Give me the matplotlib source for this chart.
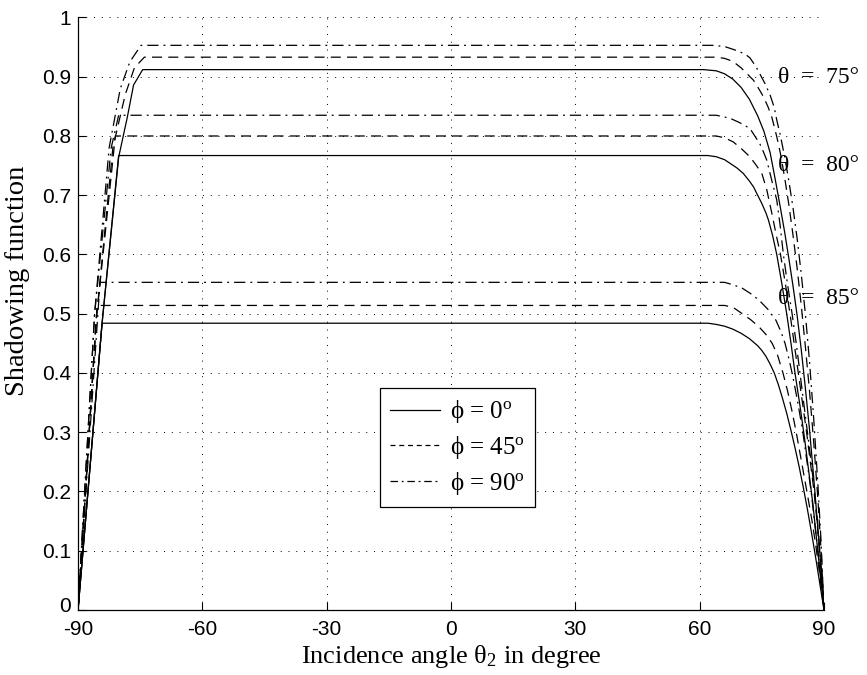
import matplotlib
matplotlib.use("Agg")
import matplotlib.pyplot as plt
import matplotlib.transforms as mtransforms
from matplotlib.lines import Line2D

plt.rcParams['mathtext.fontset'] = 'custom'
plt.rcParams['mathtext.rm'] = 'Liberation Serif'
plt.rcParams['mathtext.it'] = 'Liberation Serif:italic'

# ---- shadowing function vs incidence angle, theta = 75, 80, 85 deg ----
# phi = 0 deg (solid)
t75_phi0_x = [-90, -84.2, -80.2, -78.1, -76.6, -74.4, 61, 64, 66, 68, 70, 72, 74, 75.5, 77, 78.2,
              79.4, 80.5, 81.5, 82.5, 83.5, 84.5, 85.5, 86.5, 87.5, 88.5, 89.3, 90]
t75_phi0_y = [0, 0.484, 0.764, 0.832, 0.886, 0.912, 0.912, 0.910, 0.905, 0.896, 0.882, 0.862, 0.834,
              0.808, 0.772, 0.728, 0.682, 0.638, 0.594, 0.548, 0.498, 0.44, 0.375, 0.305, 0.225,
              0.14, 0.07, 0]

t80_phi0_x = [-90, -84.2, -80.2, 62, 64, 66, 67.3, 69, 70.5, 72, 73, 74, 75, 76, 76.6, 77.6, 78.6,
              79.8, 81, 82, 83, 84.2, 85.3, 86.3, 87.3, 88.2, 89.1, 90]
t80_phi0_y = [0, 0.484, 0.767, 0.767, 0.765, 0.760, 0.754, 0.746, 0.737, 0.724, 0.714, 0.700, 0.686,
              0.670, 0.658, 0.632, 0.600, 0.552, 0.500, 0.452, 0.400, 0.345, 0.290, 0.235, 0.180,
              0.120, 0.060, 0]

t85_phi0_x = [-90, -84.2, 62, 64, 66, 68, 70, 72, 74, 75, 76, 77, 78, 79, 80, 81, 82, 83, 84, 85,
              86, 87, 88, 89, 90]
t85_phi0_y = [0, 0.484, 0.484, 0.482, 0.479, 0.474, 0.467, 0.458, 0.446, 0.438, 0.428, 0.415, 0.400,
              0.380, 0.357, 0.332, 0.304, 0.274, 0.242, 0.207, 0.170, 0.130, 0.088, 0.044, 0]

# phi = 45 deg (dashed)
t75_phi45_x = [-90, -85.6, -81.6, -78.6, -76.4, -74.0, 64, 66, 68, 70, 72, 73, 74.5, 75.4, 76.5,
               77.4, 78.6, 79.5, 80.5, 81.5, 82.5, 83.5, 84.5, 85.5, 86.5, 87.5, 88.5, 89.3, 90]
t75_phi45_y = [0, 0.49, 0.78, 0.87, 0.915, 0.933, 0.933, 0.931, 0.926, 0.915, 0.901, 0.894, 0.877,
               0.866, 0.849, 0.832, 0.799, 0.770, 0.730, 0.685, 0.634, 0.578, 0.515, 0.445, 0.370,
               0.285, 0.190, 0.100, 0]

t80_phi45_x = [-90, -85.6, -81.0, 64, 66, 68.1, 70, 72.1, 73.5, 75, 76.2, 77.4, 78.5, 79.5, 80.7,
               81.8, 82.8, 83.8, 84.8, 85.8, 86.7, 87.6, 88.3, 88.9, 89.5, 90]
t80_phi45_y = [0, 0.49, 0.80, 0.80, 0.797, 0.790, 0.779, 0.765, 0.752, 0.737, 0.709, 0.670, 0.632,
               0.600, 0.550, 0.500, 0.450, 0.400, 0.350, 0.300, 0.250, 0.200, 0.150, 0.100, 0.050, 0]

t85_phi45_x = [-90, -85.4, 66, 68, 70.3, 72.3, 74.3, 76, 77.5, 78.8, 80.1, 81.2, 82.3, 83.3, 84.2,
               85.1, 86, 87, 88, 89, 90]
t85_phi45_y = [0, 0.514, 0.514, 0.511, 0.500, 0.490, 0.478, 0.465, 0.450, 0.430, 0.400, 0.370,
               0.335, 0.300, 0.265, 0.230, 0.195, 0.155, 0.110, 0.058, 0]

# phi = 90 deg (dash-dot)
t75_phi90_x = [-90, -86.0, -82.5, -79.8, -77.5, -74.8, 63, 66, 67.3, 69, 71, 72.1, 73.5, 74.5, 75.8,
               77, 78, 78.6, 79.5, 80.5, 81.5, 82.5, 83.5, 84.5, 85.5, 86.5, 87.5, 88.5, 89.3, 90]
t75_phi90_y = [0, 0.50, 0.78, 0.88, 0.925, 0.953, 0.953, 0.951, 0.948, 0.944, 0.938, 0.932, 0.918,
               0.905, 0.888, 0.869, 0.848, 0.827, 0.800, 0.765, 0.725, 0.680, 0.628, 0.568, 0.500,
               0.420, 0.325, 0.215, 0.115, 0]

t80_phi90_x = [-90, -86.0, -82.0, -80.2, 64, 67.3, 69.5, 72.1, 73.3, 74.5, 75.4, 76.2, 77.4, 78.6,
               79.4, 80.2, 81.2, 82.3, 83.3, 84.2, 85.1, 86, 86.9, 87.7, 88.4, 89, 89.5, 90]
t80_phi90_y = [0, 0.50, 0.78, 0.835, 0.835, 0.830, 0.823, 0.813, 0.800, 0.787, 0.773, 0.759, 0.725,
               0.692, 0.650, 0.600, 0.550, 0.500, 0.450, 0.400, 0.350, 0.300, 0.250, 0.200, 0.150,
               0.100, 0.050, 0]

t85_phi90_x = [-90, -84.7, 66, 68, 70.3, 72.3, 74.3, 76.4, 78.4, 79.6, 80.6, 81.5, 82.3, 83.2, 84.1,
               84.9, 85.9, 86.9, 87.7, 88.5, 89.3, 90]
t85_phi90_y = [0, 0.553, 0.553, 0.549, 0.543, 0.534, 0.523, 0.508, 0.489, 0.470, 0.450, 0.425,
               0.400, 0.368, 0.333, 0.300, 0.250, 0.200, 0.150, 0.100, 0.050, 0]

x_ticks = [-90, -60, -30, 0, 30, 60, 90]
x_tick_labels = ['-90', '-60', '-30', '0', '30', '60', '90']
y_ticks = [0, 0.1, 0.2, 0.3, 0.4, 0.5, 0.6, 0.7, 0.8, 0.9, 1]
y_tick_labels = ['0', '0.1', '0.2', '0.3', '0.4', '0.5', '0.6', '0.7', '0.8', '0.9', '1']
theta_labels = ['θ  =  75°', 'θ  =  80°', 'θ  =  85°']
theta_label_y = [0.899, 0.751, 0.526]
legend_labels = ['ϕ = 0$^{\\rm o}$', 'ϕ = 45$^{\\rm o}$', 'ϕ = 90$^{\\rm o}$']

serif = 'Liberation Serif'
sans = 'Liberation Sans'

fig = plt.figure(figsize=(8.67, 6.75), dpi=100)
ax = fig.add_axes([0.0900, 0.0963, 0.8604, 0.8778])

lw = 0.9
solid = dict(color='black', lw=lw, linestyle='-')
dashed = dict(color='black', lw=lw, linestyle=(0, (8, 5)))
dashdot = dict(color='black', lw=lw, linestyle=(0, (9, 4, 1.5, 4)))

ax.plot(t75_phi0_x, t75_phi0_y, **solid)
ax.plot(t80_phi0_x, t80_phi0_y, **solid)
ax.plot(t85_phi0_x, t85_phi0_y, **solid)
ax.plot(t75_phi45_x, t75_phi45_y, **dashed)
ax.plot(t80_phi45_x, t80_phi45_y, **dashed)
ax.plot(t85_phi45_x, t85_phi45_y, **dashed)
ax.plot(t75_phi90_x, t75_phi90_y, **dashdot)
ax.plot(t80_phi90_x, t80_phi90_y, **dashdot)
ax.plot(t85_phi90_x, t85_phi90_y, **dashdot)

ax.set_xlim(-90, 90)
ax.set_ylim(0, 1)
ax.set_xticks(x_ticks)
ax.set_xticklabels(x_tick_labels, fontsize=15, fontfamily=sans)
ax.set_yticks(y_ticks)
ax.set_yticklabels(y_tick_labels, fontsize=15, fontfamily=sans)
ax.tick_params(direction='in', length=6, width=0.8, top=False, right=False)
ax.tick_params(axis='x', pad=7)
ax.tick_params(axis='y', pad=5)
ax.grid(True, color='black', linestyle=(0, (1, 7)), linewidth=0.7)
ax.spines['top'].set_visible(False)
ax.spines['right'].set_visible(False)
for s in ('left', 'bottom'):
    ax.spines[s].set_linewidth(0.9)

# lift the bottom y tick label a little so it clears the first x tick label
zero_lbl = ax.get_yticklabels()[0]
zero_lbl.set_transform(zero_lbl.get_transform() +
                       mtransforms.ScaledTranslation(0, 4 / 72, fig.dpi_scale_trans))

ax.set_xlabel('Incidence angle θ$_2$ in degree', fontsize=19, fontfamily=serif, labelpad=3)
ax.set_ylabel('Shadowing function', fontsize=20.5, fontfamily=serif)
ax.yaxis.set_label_coords(-0.064, 0.555)

for lab, yv in zip(theta_labels, theta_label_y):
    ax.text(79.0, yv, lab, fontsize=17, fontfamily=serif, ha='left', va='center', clip_on=False)

# legend samples drawn with shorter dash patterns
handles = [Line2D([], [], color='black', lw=lw, linestyle='-'),
           Line2D([], [], color='black', lw=lw, linestyle=(0, (4, 3))),
           Line2D([], [], color='black', lw=lw, linestyle=(0, (6, 3, 1.5, 3)))]
leg = ax.legend(handles, legend_labels, loc='lower left', bbox_to_anchor=(0.405, 0.174),
                prop={'family': serif, 'size': 18}, frameon=True, fancybox=False,
                handlelength=2.0, handletextpad=0.4, borderpad=0.4, labelspacing=0.35,
                borderaxespad=0)
leg.get_frame().set_edgecolor('black')
leg.get_frame().set_linewidth(0.9)
leg.get_frame().set_alpha(1)

fig.savefig('out.png', dpi=100)
